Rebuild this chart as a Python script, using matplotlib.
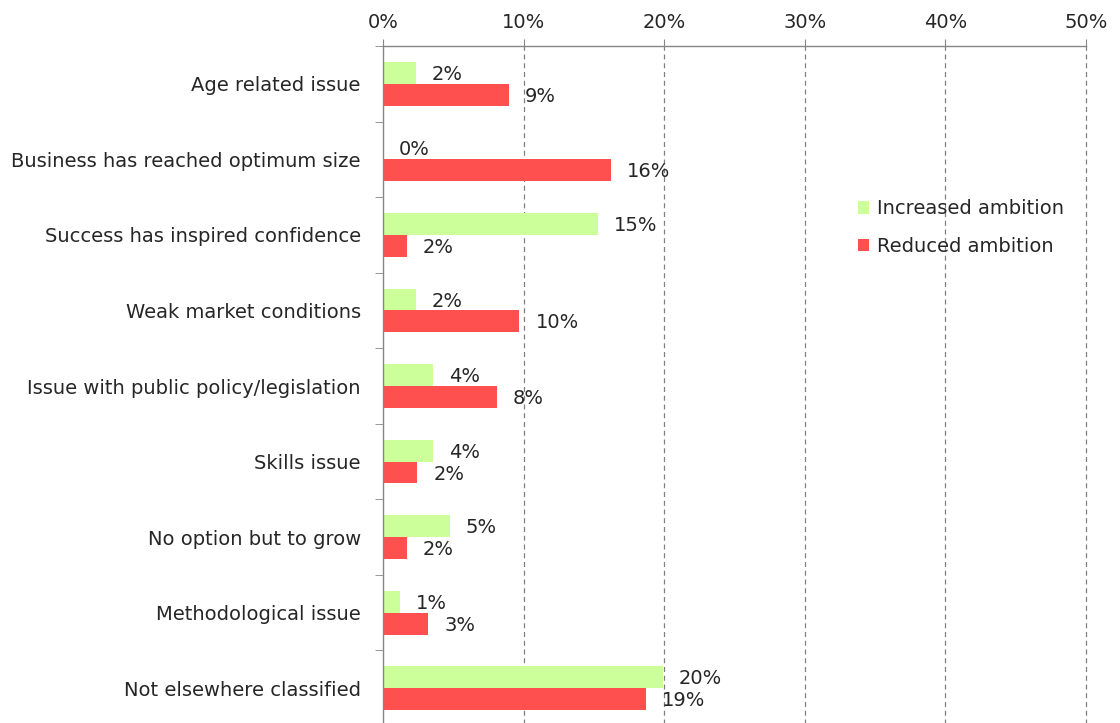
import matplotlib
matplotlib.use("Agg")
import matplotlib.pyplot as plt
import numpy as np
from matplotlib.ticker import FuncFormatter, FixedLocator

categories = [
    "Age related issue",
    "Business has reached optimum size",
    "Success has inspired confidence",
    "Weak market conditions",
    "Issue with public policy/legislation",
    "Skills issue",
    "No option but to grow",
    "Methodological issue",
    "Not elsewhere classified",
]
increased = [2.34, 0.0, 15.26, 2.34, 3.55, 3.55, 4.74, 1.2, 19.9]
reduced = [8.95, 16.2, 1.68, 9.7, 8.1, 2.44, 1.68, 3.2, 18.7]
series_names = ["Increased ambition", "Reduced ambition"]
x_ticks = [0, 10, 20, 30, 40, 50]

GREEN = "#CCFF99"
RED = "#FF5050"
TEXT = "#262626"
AXIS = "#868686"
FS = 14

plt.rcParams["font.family"] = ["DejaVu Sans"]

fig = plt.figure(figsize=(11.2, 7.23), dpi=100)
ax = fig.add_axes([383 / 1120, -3 / 723, (1086 - 383) / 1120, (726 - 46) / 723])

n = len(categories)
y = np.arange(n)
h = 0.29
ax.barh(y - h / 2, increased, height=h, color=GREEN, label=series_names[0], zorder=3)
ax.barh(y + h / 2, reduced, height=h, color=RED, label=series_names[1], zorder=3)

pad = 1.15
for yi, v in zip(y, increased):
    ax.text(v + pad, yi - h / 2 + 0.02, f"{v:.0f}%", va="center", ha="left",
            fontsize=FS, color=TEXT)
for yi, v in zip(y, reduced):
    ax.text(v + pad, yi + h / 2 + 0.02, f"{v:.0f}%", va="center", ha="left",
            fontsize=FS, color=TEXT)

ax.set_xlim(0, 50)
ax.set_ylim(n - 0.5, -0.5)
ax.xaxis.tick_top()
ax.set_xticks(x_ticks)
ax.xaxis.set_major_formatter(FuncFormatter(lambda v, p: f"{v:.0f}%"))
ax.tick_params(axis="x", length=5, color=AXIS, labelsize=FS, labelcolor=TEXT, pad=5)

ax.set_yticks(y)
ax.set_yticklabels(categories)
ax.yaxis.set_minor_locator(FixedLocator(np.arange(n + 1) - 0.5))
ax.tick_params(axis="y", which="major", length=0, labelsize=FS, labelcolor=TEXT, pad=16)
ax.tick_params(axis="y", which="minor", length=6, color=AXIS)

for xv in x_ticks[1:]:
    ax.axvline(xv, color="#808080", linestyle=(0, (4, 3)), linewidth=0.9, zorder=1,
               clip_on=False)

for s in ["right", "bottom"]:
    ax.spines[s].set_visible(False)
for s in ["left", "top"]:
    ax.spines[s].set_color(AXIS)
    ax.spines[s].set_linewidth(1.0)
    ax.spines[s].set_zorder(4)

leg = ax.legend(loc="upper left", bbox_to_anchor=((840 - 383) / 703, (726 - 182) / 680),
                frameon=False, fontsize=FS, handlelength=0.6, handleheight=0.6,
                handletextpad=0.4, labelspacing=0.95, labelcolor=TEXT)

fig.savefig("out.png", dpi=100)
